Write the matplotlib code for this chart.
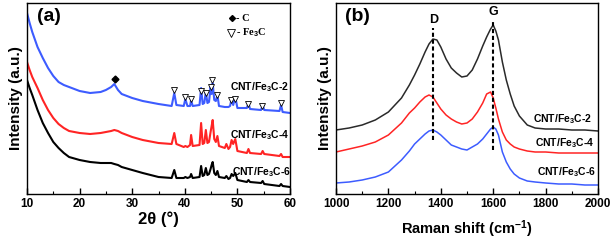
import numpy as np
import matplotlib
matplotlib.use("Agg")
import matplotlib.pyplot as plt
from matplotlib.ticker import MultipleLocator

plt.rcParams['font.family'] = ['Liberation Sans', 'DejaVu Sans']
plt.rcParams['font.weight'] = 'bold'
plt.rcParams['axes.labelweight'] = 'bold'
plt.rcParams['mathtext.fontset'] = 'custom'
plt.rcParams['mathtext.rm'] = 'Liberation Sans:bold'
plt.rcParams['mathtext.default'] = 'rm'

# XRD (a), intensities in arbitrary units
xrd_2theta = [10, 10.5, 11, 12, 13, 14, 15, 16, 17, 18,
              20, 22, 24, 25, 26, 26.6, 27.3, 28, 30, 32,
              35, 37.5, 38.0, 38.4, 39.8, 40.1, 40.5, 41.0, 41.2, 41.5,
              42.8, 43.1, 43.4, 43.7, 44.0, 44.3, 44.6, 44.9, 45.1, 45.3,
              45.6, 45.9, 46.2, 46.5, 47.6, 47.9, 48.3, 48.6, 48.9, 49.2,
              49.6, 50.0, 51.8, 52.1, 52.4, 54.5, 54.8, 55.1, 58.0, 58.3,
              58.6, 60]
xrd_fe3c_2 = [181, 171, 162, 147, 136, 126, 118, 112, 109, 107,
              103, 101, 102, 104, 107, 110, 104, 100, 96, 93,
              90, 88, 101, 89, 88, 95, 88, 88, 94, 88,
              89, 106, 90, 91, 102, 91, 92, 107, 100, 111,
              94, 93, 99, 88, 87, 87, 87, 88, 95, 89,
              97, 86, 86, 91, 85, 84, 89, 84, 83, 89,
              82, 81]
xrd_fe3c_4 = [132, 124, 117, 106, 94, 84, 76, 70, 66, 63,
              61, 60, 61, 62, 63, 64, 63, 61, 57, 54,
              51, 50, 61, 50, 47, 48, 47, 49, 59, 48,
              49, 71, 50, 51, 64, 51, 52, 62, 68, 74,
              55, 52, 58, 48, 46, 50, 45, 47, 54, 50,
              55, 43, 41, 45, 41, 40, 43, 40, 38, 40,
              37, 37]
xrd_fe3c_6 = [114, 106, 99, 84, 71, 61, 52, 46, 41, 37,
              34, 32, 31, 31, 31, 30, 29, 27, 24, 21,
              17, 16, 24, 16, 16, 17, 16, 17, 20, 16,
              17, 28, 18, 19, 26, 19, 20, 25, 29, 32,
              21, 19, 23, 17, 16, 18, 15, 16, 20, 18,
              21, 14, 12, 14, 12, 11, 13, 10, 8, 10,
              8, 7]
c_peak = [26.7], [115]
fe3c_peaks_x = [38.0, 40.0, 41.2, 43.1, 44.0, 44.9, 45.2, 46.2, 48.8, 49.6, 52.1, 54.7, 58.3]
fe3c_peaks_y = [104, 97, 95, 103, 101, 107, 114, 99, 94, 95, 90, 88, 91]

# Raman (b)
raman_shift = [1000, 1050, 1100, 1150, 1200, 1250, 1280, 1300, 1320, 1340,
               1355, 1370, 1385, 1400, 1420, 1440, 1460, 1480, 1500, 1520,
               1540, 1560, 1575, 1590, 1600, 1610, 1620, 1635, 1650, 1665,
               1680, 1700, 1730, 1760, 1800, 1850, 1900, 1950, 2000]
raman_fe3c_2 = [64, 66, 69, 74, 82, 96, 109, 119, 130, 142,
                150, 155, 154, 147, 135, 126, 121, 117, 118, 124,
                135, 148, 157, 165, 169, 163, 154, 132, 114, 100,
                88, 78, 69, 66, 65, 65, 64, 64, 63]
raman_fe3c_4 = [42, 45, 48, 52, 59, 71, 81, 86, 92, 97,
                99, 97, 91, 85, 79, 75, 72, 70, 71, 75,
                82, 91, 100, 102, 96, 86, 75, 62, 54, 50,
                47, 45, 43, 42, 42, 41, 41, 41, 41]
raman_fe3c_6 = [11, 12, 14, 17, 22, 34, 43, 50, 55, 60,
                63, 64, 62, 59, 54, 49, 47, 45, 44, 47,
                50, 55, 60, 65, 67, 65, 59, 42, 32, 25,
                20, 16, 13, 12, 11, 10, 10, 9, 9]

blue = '#3d5cff'
red = '#ff2424'
serif = ['Liberation Serif', 'DejaVu Sans']

fig = plt.figure(figsize=(6.14, 2.44), dpi=100)
ax1 = fig.add_axes([27 / 614, 50 / 244, 263 / 614, 191 / 244])
ax2 = fig.add_axes([336 / 614, 50 / 244, 262 / 614, 191 / 244])

ax1.plot(xrd_2theta, xrd_fe3c_2, color=blue, lw=1.5)
ax1.plot(xrd_2theta, xrd_fe3c_4, color=red, lw=1.5)
ax1.plot(xrd_2theta, xrd_fe3c_6, color='black', lw=1.5)
ax1.plot(*c_peak, 'D', color='black', ms=3.5)
ax1.plot(fe3c_peaks_x, fe3c_peaks_y, 'v', mfc='white', mec='black', mew=0.6, ms=5, ls='none')

ax1.text(48.6, 107, 'CNT/Fe$_3$C-2', fontsize=7.5, fontweight='bold', va='center')
ax1.text(48.6, 59, 'CNT/Fe$_3$C-4', fontsize=7.5, fontweight='bold', va='center')
ax1.text(49.0, 22, 'CNT/Fe$_3$C-6', fontsize=7.5, fontweight='bold', va='center')
ax1.text(0.084, 0.93, '(a)', transform=ax1.transAxes, fontsize=14, ha='center', va='center')

# symbol key
ax1.plot([0.78], [0.92], 'D', color='black', ms=3, transform=ax1.transAxes)
ax1.plot([0.775], [0.845], 'v', mfc='white', mec='black', mew=0.6, ms=5.5, transform=ax1.transAxes)
ax1.text(0.795, 0.92, '- C', transform=ax1.transAxes, fontsize=7.5,
         family=serif, fontweight='bold', va='center')
ax1.text(0.795, 0.843, '- Fe$_3$C', transform=ax1.transAxes, fontsize=7.5,
         family=serif, fontweight='bold', va='center')

ax1.set_xlim(10, 60)
ax1.set_ylim(0, 191)
ax1.xaxis.set_major_locator(MultipleLocator(10))
ax1.xaxis.set_minor_locator(MultipleLocator(5))
ax1.set_xlabel('2\u03b8 (\u00b0)', fontsize=12, fontweight='bold', labelpad=1)
ax1.set_ylabel('Intensity (a.u.)', fontsize=11, fontweight='bold', labelpad=3)

ax2.plot(raman_shift, raman_fe3c_2, color='#2a2a2a', lw=1.1)
ax2.plot(raman_shift, raman_fe3c_4, color=red, lw=1.1)
ax2.plot(raman_shift, raman_fe3c_6, color=blue, lw=1.1)
ax2.plot([1372, 1372], [54, 166], ls=(0, (2, 1.3)), color='black', lw=1.5)
ax2.plot([1600, 1600], [44, 172], ls=(0, (2, 1.3)), color='black', lw=1.5)
ax2.text(1372, 174, 'D', fontsize=9, fontweight='bold', ha='center', va='center')
ax2.text(1600, 182, 'G', fontsize=9, fontweight='bold', ha='center', va='center')
ax2.text(1752, 75, 'CNT/Fe$_3$C-2', fontsize=7.5, fontweight='bold', va='center')
ax2.text(1760, 51, 'CNT/Fe$_3$C-4', fontsize=7.5, fontweight='bold', va='center')
ax2.text(1768, 22, 'CNT/Fe$_3$C-6', fontsize=7.5, fontweight='bold', va='center')
ax2.text(0.08, 0.93, '(b)', transform=ax2.transAxes, fontsize=14, ha='center', va='center')

ax2.set_xlim(1000, 2000)
ax2.set_ylim(0, 191)
ax2.xaxis.set_major_locator(MultipleLocator(200))
ax2.xaxis.set_minor_locator(MultipleLocator(100))
ax2.set_xlabel('Raman shift (cm$^{-1}$)', fontsize=10.5, fontweight='bold', labelpad=6)
ax2.set_ylabel('Intensity (a.u.)', fontsize=11, fontweight='bold', labelpad=3)

for ax in (ax1, ax2):
    ax.set_yticks([])
    ax.tick_params(axis='x', which='major', direction='in', length=4, width=1, labelsize=8.5, pad=3)
    ax.tick_params(axis='x', which='minor', direction='in', length=2.5, width=0.8)
    for lab in ax.get_xticklabels():
        lab.set_fontweight('bold')
    for s in ax.spines.values():
        s.set_linewidth(1.0)

fig.savefig('out.png', dpi=100)
